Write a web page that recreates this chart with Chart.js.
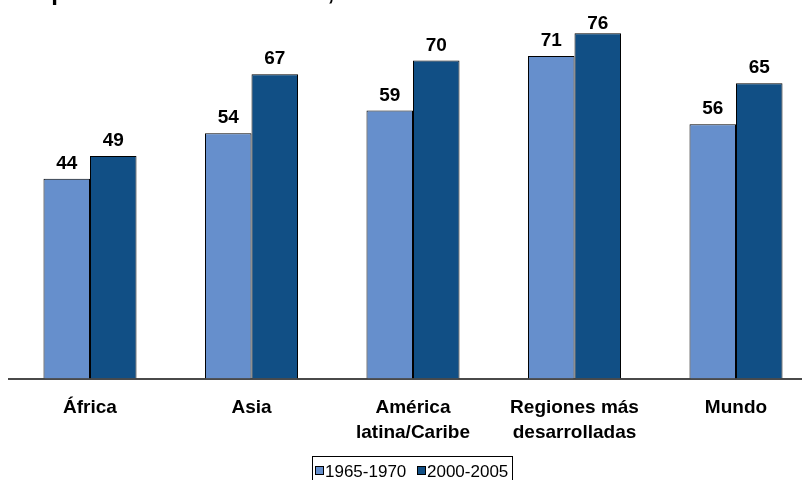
<!DOCTYPE html>
<html>
<head>
<meta charset="utf-8">
<script src="https://cdn.jsdelivr.net/npm/chart.js@4/dist/chart.umd.min.js"></script>
<style>
html,body{margin:0;padding:0;background:#fff;overflow:hidden;width:802px;height:480px;}
#wrap{position:relative;width:830px;height:480px;}
canvas{display:block;}
</style>
</head>
<body>
<div id="wrap"><canvas id="c" width="830" height="480"></canvas></div>
<script>
const titleText = "Esperanza de vida al nacer, en años";
const categories = [["África"], ["Asia"], ["América", "latina/Caribe"], ["Regiones más", "desarrolladas"], ["Mundo"]];
const seriesNames = ["1965-1970", "2000-2005"];
const values1965 = [44, 54, 59, 71, 56];
const values2000 = [49, 67, 70, 76, 65];
const yMax = 80;

const FONT = '"Liberation Sans", Arial, sans-serif';
const colors = ["#668FCC", "#114F85"];

const valueLabels = {
  id: 'valueLabels',
  afterDatasetsDraw(chart) {
    const ctx = chart.ctx;
    ctx.save();
    ctx.font = 'bold 19px ' + FONT;
    ctx.fillStyle = '#000';
    ctx.textAlign = 'center';
    ctx.textBaseline = 'alphabetic';
    chart.data.datasets.forEach((ds, i) => {
      chart.getDatasetMeta(i).data.forEach((bar, j) => {
        const y = Math.max(bar.y - 10, 29);
        ctx.fillText(String(ds.data[j]), bar.x, y);
      });
    });
    ctx.restore();
  }
};

const extras = {
  id: 'extras',
  afterDraw(chart) {
    const ctx = chart.ctx;
    ctx.save();
    // title (mostly cut off at the top)
    ctx.font = 'bold 24px ' + FONT;
    ctx.fillStyle = '#000';
    ctx.textAlign = 'left';
    ctx.textBaseline = 'alphabetic';
    ctx.fillText(titleText, 22, -0.5);
    // legend
    ctx.strokeStyle = '#000';
    ctx.lineWidth = 1;
    ctx.strokeRect(312.5, 456.5, 200, 30);
    ctx.font = '17px ' + FONT;
    const items = [{x: 315, tx: 325}, {x: 417, tx: 427}];
    items.forEach((it, i) => {
      ctx.fillStyle = colors[i];
      ctx.fillRect(it.x + 0.5, 466.5, 8, 8);
      ctx.strokeRect(it.x + 0.5, 466.5, 8, 8);
      ctx.fillStyle = '#000';
      ctx.fillText(seriesNames[i], it.tx, 476.5);
    });
    ctx.restore();
  }
};

new Chart(document.getElementById('c'), {
  type: 'bar',
  data: {
    labels: categories,
    datasets: [
      {label: seriesNames[0], data: values1965, backgroundColor: colors[0], borderColor: '#000', borderWidth: 1, borderSkipped: 'bottom'},
      {label: seriesNames[1], data: values2000, backgroundColor: colors[1], borderColor: '#000', borderWidth: 1, borderSkipped: 'bottom'}
    ]
  },
  options: {
    responsive: false,
    animation: false,
    devicePixelRatio: 1,
    layout: {padding: {left: 9.25, right: 13.25, top: 15.1, bottom: 0}},
    plugins: {legend: {display: false}, tooltip: {enabled: false}, title: {display: false}},
    datasets: {bar: {barPercentage: 1, categoryPercentage: 0.576}},
    scales: {
      x: {
        grid: {display: false},
        border: {display: true, color: '#4a4a4a', width: 2},
        ticks: {
          color: '#000',
          padding: 9,
          maxRotation: 0,
          autoSkip: false,
          font: {family: FONT, size: 19, weight: 'bold', lineHeight: '24.5px'}
        },
        afterFit(scale) { scale.height = 101.4; }
      },
      y: {
        display: false,
        min: 0,
        max: yMax
      }
    }
  },
  plugins: [valueLabels, extras]
});
</script>
</body>
</html>
